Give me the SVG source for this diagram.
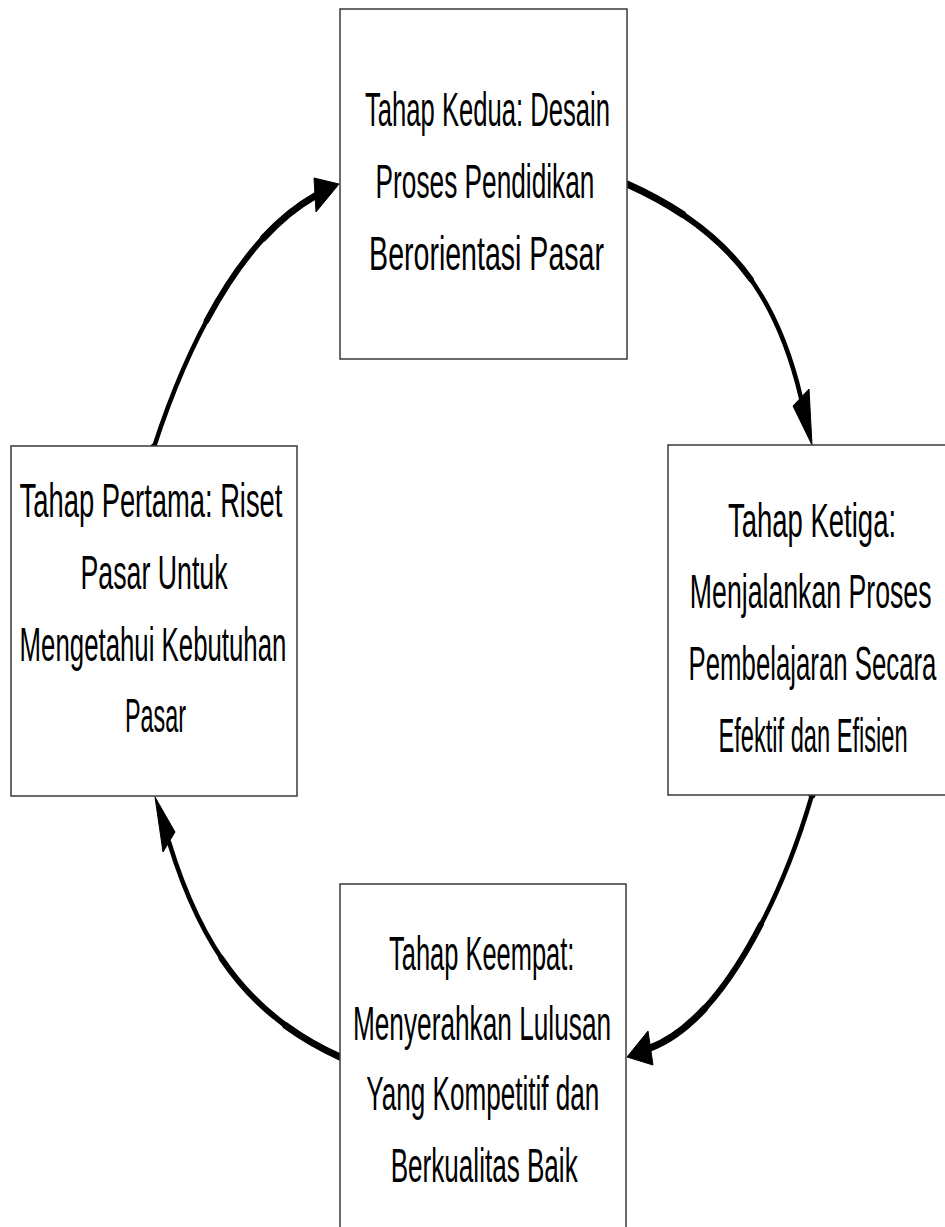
<svg xmlns="http://www.w3.org/2000/svg" width="945" height="1227" viewBox="0 0 945 1227">
<style>
.box{fill:#ffffff;stroke:#3a3a3a;stroke-width:1.5}
.t{font-family:"Liberation Sans",Arial,sans-serif;font-size:48px;fill:#000;text-anchor:middle}
.c{fill:none;stroke:#000;stroke-linecap:round}
.w1{stroke-width:4.5}
.w2{stroke-width:5.8}
.w3{stroke-width:7}
.h{fill:#000;stroke:#000;stroke-width:1;stroke-linejoin:miter}
</style>
<rect width="945" height="1227" fill="#fff"/>
<g id="connectors">
<path class="c w1" d="M154,447 C185,352 237,240 315,196"/>
<path class="c w2" pathLength="100" stroke-dasharray="0 45 55 0" d="M154,447 C185,352 237,240 315,196"/>
<path class="c w3" pathLength="100" stroke-dasharray="0 78 22 0" d="M154,447 C185,352 237,240 315,196"/>
<polygon class="h" points="339,184 314,178 316,212"/>
<path class="c w1" d="M627,184 C727,229 776,291 801,398"/>
<path class="c w2" pathLength="100" stroke-dasharray="55 100" d="M627,184 C727,229 776,291 801,398"/>
<path class="c w3" pathLength="100" stroke-dasharray="22 100" d="M627,184 C727,229 776,291 801,398"/>
<polygon class="h" points="812,445 793,406 809,389"/>
<path class="c w1" d="M812,795 C784,891 725,1020 650,1048"/>
<path class="c w2" pathLength="100" stroke-dasharray="0 45 55 0" d="M812,795 C784,891 725,1020 650,1048"/>
<path class="c w3" pathLength="100" stroke-dasharray="0 78 22 0" d="M812,795 C784,891 725,1020 650,1048"/>
<polygon class="h" points="627,1057 648,1031 653,1065"/>
<path class="c w1" d="M340,1057 C249,1016 201,947 169,842"/>
<path class="c w2" pathLength="100" stroke-dasharray="55 100" d="M340,1057 C249,1016 201,947 169,842"/>
<path class="c w3" pathLength="100" stroke-dasharray="22 100" d="M340,1057 C249,1016 201,947 169,842"/>
<polygon class="h" points="155,797 175,832 163,852"/>
</g>
<g id="node-kedua">
<rect class="box" x="340" y="9" width="287" height="350"/>
<text class="t" transform="translate(487.5,126) scale(0.57,1)" textLength="430" lengthAdjust="spacingAndGlyphs">Tahap Kedua: Desain</text>
<text class="t" transform="translate(485,198) scale(0.57,1)" textLength="384" lengthAdjust="spacingAndGlyphs">Proses Pendidikan</text>
<text class="t" transform="translate(486.5,270) scale(0.57,1)" textLength="412" lengthAdjust="spacingAndGlyphs">Berorientasi Pasar</text>
</g>
<g id="node-pertama">
<rect class="box" x="11" y="446" width="286" height="350"/>
<text class="t" transform="translate(151,517) scale(0.57,1)" textLength="461" lengthAdjust="spacingAndGlyphs">Tahap Pertama: Riset</text>
<text class="t" transform="translate(154,589) scale(0.57,1)" textLength="258" lengthAdjust="spacingAndGlyphs">Pasar Untuk</text>
<text class="t" transform="translate(153,661) scale(0.57,1)" textLength="468" lengthAdjust="spacingAndGlyphs">Mengetahui Kebutuhan</text>
<text class="t" transform="translate(155.5,732) scale(0.57,1)" textLength="107" lengthAdjust="spacingAndGlyphs">Pasar</text>
</g>
<g id="node-ketiga">
<rect class="box" x="668" y="445" width="287" height="350"/>
<text class="t" transform="translate(812,537) scale(0.57,1)" textLength="295" lengthAdjust="spacingAndGlyphs">Tahap Ketiga:</text>
<text class="t" transform="translate(810.7,608) scale(0.57,1)" textLength="424" lengthAdjust="spacingAndGlyphs">Menjalankan Proses</text>
<text class="t" transform="translate(812.5,680) scale(0.54,1)" textLength="459" lengthAdjust="spacingAndGlyphs">Pembelajaran Secara</text>
<text class="t" transform="translate(813,752) scale(0.57,1)" textLength="332" lengthAdjust="spacingAndGlyphs">Efektif dan Efisien</text>
</g>
<g id="node-keempat">
<rect class="box" x="340" y="884" width="286" height="360"/>
<text class="t" transform="translate(481.7,970) scale(0.57,1)" textLength="325" lengthAdjust="spacingAndGlyphs">Tahap Keempat:</text>
<text class="t" transform="translate(482,1040) scale(0.57,1)" textLength="453" lengthAdjust="spacingAndGlyphs">Menyerahkan Lulusan</text>
<text class="t" transform="translate(482.8,1110) scale(0.57,1)" textLength="409" lengthAdjust="spacingAndGlyphs">Yang Kompetitif dan</text>
<text class="t" transform="translate(484.2,1182) scale(0.57,1)" textLength="328" lengthAdjust="spacingAndGlyphs">Berkualitas Baik</text>
</g>
</svg>
